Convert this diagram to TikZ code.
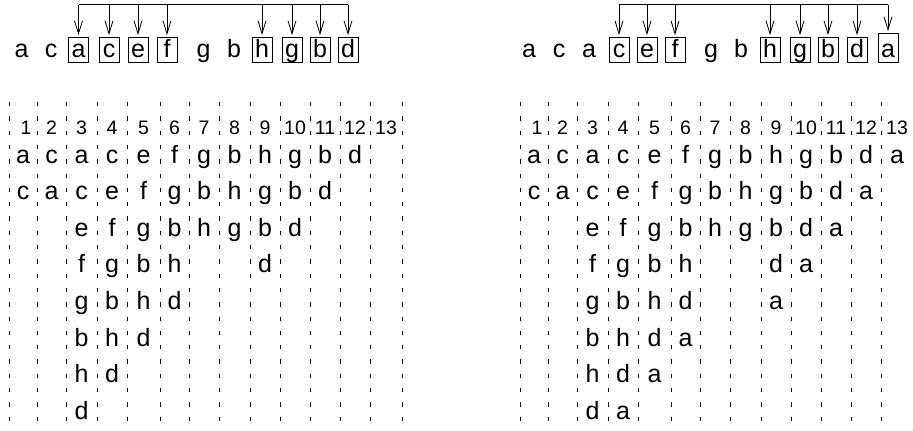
\documentclass[tikz,border=0pt]{standalone}
\usepackage{fontspec}
\setmainfont{Liberation Sans}
\usetikzlibrary{arrows.meta}
\begin{document}
\begin{tikzpicture}[x=1pt,y=-1pt,
  letter/.style={anchor=base,inner sep=0pt,font=\fontsize{25}{25}\selectfont},
  numlab/.style={anchor=base,inner sep=0pt,font=\fontsize{19.5}{19.5}\selectfont},
  boxed/.style={letter,draw,line width=0.8pt,text height=20pt,text depth=5pt,minimum width=20pt},
  sep/.style={line width=0.7pt,dash pattern=on 4.3pt off 10pt},
  arr/.style={line width=0.8pt,shorten >=1.5pt,-{Straight Barb[length=13pt,width=8pt]}},
  bracket/.style={line width=0.8pt}]
\useasboundingbox (0,0) rectangle (913,431);

% dashed column separators
\foreach \x in {9,37,66,97,127,160,189,219,250,280,310,340,370,402}{
  \draw[sep] (\x,102) -- (\x,431);
  \draw[sep] (\x+511,102) -- (\x+511,431);
}

% column numbers
\foreach \cx [count=\c] in {26,51.5,81.5,112,143.5,174.5,204,234.5,265,295,325,355,386}{
  \node[numlab] (Ln\c) at (\cx,134) {\c};
  \node[numlab] (Rn\c) at (\cx+511,134) {\c};
}

% left columns
\foreach \cx/\lst [count=\c] in {23/{a,c},51.5/{c,a},81.5/{a,c,e,f,g,b,h,d},112/{c,e,f,g,b,h,d},
  143.5/{e,f,g,b,h,d},174.5/{f,g,b,h,d},204/{g,b,h},234.5/{b,h,g},265/{h,g,b,d},295/{g,b,d},
  325/{b,d},355/{d}}{
  \foreach \l [count=\r] in \lst {
    \node[letter] (L\c-\r) at (\cx,{163+36.6*(\r-1)}) {\l};
  }
}

% right columns
\foreach \cx/\lst [count=\c] in {23/{a,c},51.5/{c,a},81.5/{a,c,e,f,g,b,h,d},112/{c,e,f,g,b,h,d,a},
  143.5/{e,f,g,b,h,d,a},174.5/{f,g,b,h,d,a},204/{g,b,h},234.5/{b,h,g},265/{h,g,b,d,a},295/{g,b,d,a},
  325/{b,d,a},355/{d,a},386/{a}}{
  \foreach \l [count=\r] in \lst {
    \node[letter] (R\c-\r) at (\cx+511,{163+36.6*(\r-1)}) {\l};
  }
}

% left top sequence
\node[letter] (lta) at (21.5,57) {a};
\node[letter] (ltc) at (51,57) {c};
\node[letter] (ltg) at (203.5,57) {g};
\node[letter] (ltb) at (234,57) {b};
\foreach \x/\l [count=\i] in {78.5/a,109/c,138/e,167/f,262/h,292/g,320/b,348/d}{
  \node[boxed] (lb\i) at (\x,57) {\l};
  \coordinate (lk\i) at (\x,4.5);
}
\draw[bracket] (lk1) -- (lk8);
\foreach \i in {1,...,8}{\draw[arr] (lk\i) -- (lb\i);}

% right top sequence
\node[letter] (rta1) at (529,57) {a};
\node[letter] (rtc) at (559,57) {c};
\node[letter] (rta2) at (589,57) {a};
\node[letter] (rtg) at (711,57) {g};
\node[letter] (rtb) at (741,57) {b};
\foreach \x/\l [count=\i] in {619/c,647/e,675/f,770/h,800/g,828/b,857/d}{
  \node[boxed] (rb\i) at (\x,57) {\l};
  \coordinate (rk\i) at (\x,4.5);
}
\node[boxed,text height=24pt] (rb8) at (888,57) {a};
\coordinate (rk8) at (888,4.5);
\draw[bracket] (rk1) -- (rk8);
\foreach \i in {1,...,8}{\draw[arr] (rk\i) -- (rb\i);}
\end{tikzpicture}
\end{document}
